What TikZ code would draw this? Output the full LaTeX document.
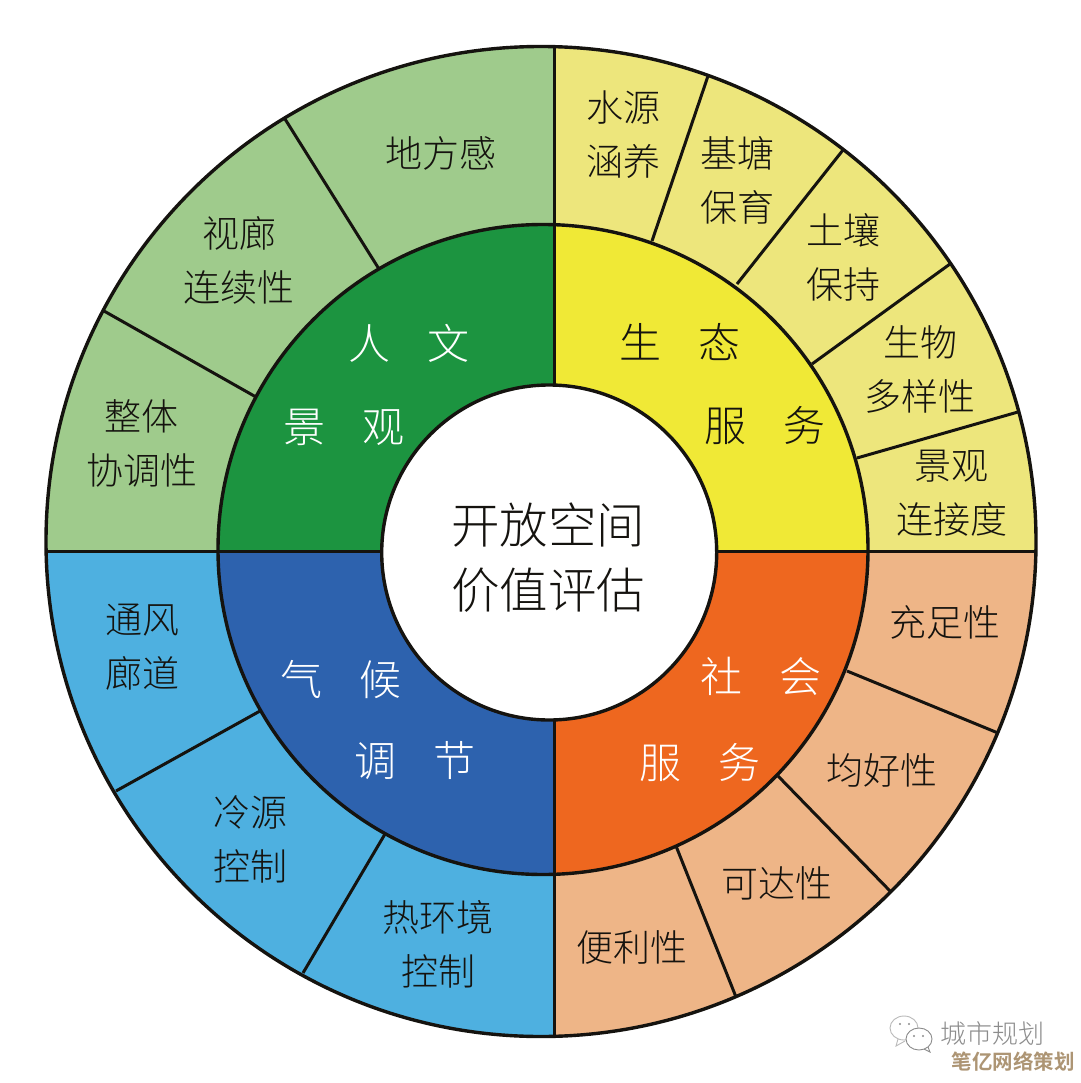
\documentclass[tikz,border=0pt]{standalone}
\usepackage{fontspec}
\setmainfont{Noto Sans CJK SC}
\newfontfamily\cjklight{Noto Sans CJK SC Light}
\newfontfamily\cjkbold{Noto Sans CJK SC Bold}
\definecolor{lgreen}{HTML}{9FCB8C}
\definecolor{lyellow}{HTML}{EDE67C}
\definecolor{lorange}{HTML}{EEB587}
\definecolor{lblue}{HTML}{4EB0E0}
\definecolor{mgreen}{HTML}{1C9440}
\definecolor{myellow}{HTML}{F0E936}
\definecolor{morange}{HTML}{EE671F}
\definecolor{mblue}{HTML}{2D62AE}
\definecolor{ink}{HTML}{15130F}
\definecolor{wmgray}{HTML}{8C8C8C}
\definecolor{wmtan}{HTML}{AD9574}
\tikzset{
  ring/.style={line width=3.4pt,draw=ink},
  spoke/.style={line width=3pt,draw=ink},
  outertext/.style={inner sep=0pt,text=ink,align=center,font=\cjklight\fontsize{37}{54}\selectfont},
  midtext/.style={inner sep=0pt,text=white,font=\cjklight\fontsize{42}{50}\selectfont},
  midtextdark/.style={inner sep=0pt,text=ink,font=\cjklight\fontsize{42}{50}\selectfont},
  centertext/.style={inner sep=0pt,text=ink,align=center,font=\cjklight\fontsize{48.5}{65}\selectfont}
}
\begin{document}
\begin{tikzpicture}[x=1pt,y=-1pt]
\useasboundingbox (0,0) rectangle (1080,1083);
\fill[white] (0,0) rectangle (1080,1083);
% outer ring quadrants
\begin{scope}
  \clip (541,541.5) circle (495);
  \fill[lgreen] (0,0) rectangle (554,551);
  \fill[lyellow] (554,0) rectangle (1080,551);
  \fill[lblue] (0,551) rectangle (554,1083);
  \fill[lorange] (554,551) rectangle (1080,1083);
\end{scope}
\draw[spoke] (285,119) -- (379,269);
\draw[spoke] (104,311) -- (256,397);
\draw[spoke] (708,76) -- (652,241);
\draw[spoke] (843,150) -- (737,284);
\draw[spoke] (950,264) -- (812,364);
\draw[spoke] (1018,412) -- (857,458);
\draw[spoke] (998,733) -- (847,671);
\draw[spoke] (891,892) -- (778,776);
\draw[spoke] (736,997) -- (676,846);
\draw[spoke] (116,791) -- (260,711);
\draw[spoke] (303,973) -- (385,834);
\draw[spoke] (46,551) -- (1036,551);
\draw[spoke] (554,47) -- (554,1036);
\draw[ring] (541,541.5) circle (495);
% middle ring quadrants
\begin{scope}
  \clip (543,549.5) circle (325);
  \fill[mgreen] (0,0) rectangle (554,551);
  \fill[myellow] (554,0) rectangle (1080,551);
  \fill[mblue] (0,551) rectangle (554,1083);
  \fill[morange] (554,551) rectangle (1080,1083);
\end{scope}
\draw[spoke] (218,551) -- (868,551);
\draw[spoke] (554,224) -- (554,875);
\draw[ring] (543,549.5) circle (325);
% centre
\draw[ring,fill=white] (549.2,552.5) circle (167.5);
\node[centertext] (centre) at (548,558) {开放空间\\价值评估};
% mid labels
\node[midtext] (rw) at (409,343) {人\hspace{37pt}文};
\node[midtext] (jg) at (344,427) {景\hspace{37pt}观};
\node[midtextdark] (st) at (680,342) {生\hspace{37pt}态};
\node[midtextdark] (fw) at (765,426) {服\hspace{37pt}务};
\node[midtext] (sh) at (761,676) {社\hspace{37pt}会};
\node[midtext] (fw2) at (700,763) {服\hspace{37pt}务};
\node[midtext] (qh) at (341,680) {气\hspace{37pt}候};
\node[midtext] (tj) at (415,760) {调\hspace{37pt}节};
% outer labels
\node[outertext] (a1) at (441,153) {地方感};
\node[outertext] (a2) at (239,260) {视廊\\连续性};
\node[outertext] (a3) at (141.5,443) {整体\\协调性};
\node[outertext] (b1) at (623,135) {水源\\涵养};
\node[outertext] (b2) at (737,180.5) {基塘\\保育};
\node[outertext] (b3) at (843,257) {土壤\\保持};
\node[outertext] (b4) at (920,369) {生物\\多样性};
\node[outertext] (b5) at (951.5,493.5) {景观\\连接度};
\node[outertext] (c1) at (945,622) {充足性};
\node[outertext] (c2) at (882,770) {均好性};
\node[outertext] (c3) at (777,883) {可达性};
\node[outertext] (c4) at (632,947) {便利性};
\node[outertext] (d1) at (438,944) {热环境\\控制};
\node[outertext] (d2) at (250,839.5) {冷源\\控制};
\node[outertext] (d3) at (142,647) {通风\\廊道};
% watermark
\draw[wmgray!60,line width=0.9pt,fill=white] (904,1028) ellipse (14 and 12);
\draw[wmgray!60,line width=0.9pt] (898,1039) -- (896,1046) -- (905,1041);
\draw[wmgray,line width=0.9pt,fill=white] (919,1039) ellipse (13 and 11);
\draw[wmgray,line width=0.9pt] (924,1049) -- (930,1052) -- (928,1047);
\fill[wmgray] (900,1024) circle (1.2) (909,1024) circle (1.2) (914,1036) circle (1.1) (923,1036) circle (1.1);
\node[inner sep=0pt,text=wmgray,font=\cjklight\fontsize{26}{30}\selectfont] (wm1) at (992,1034) {城市规划};
\node[inner sep=0pt,text=wmtan,font=\cjkbold\fontsize{20.5}{24}\selectfont] (wm2) at (1013,1062) {笔亿网络策划};
\end{tikzpicture}
\end{document}
